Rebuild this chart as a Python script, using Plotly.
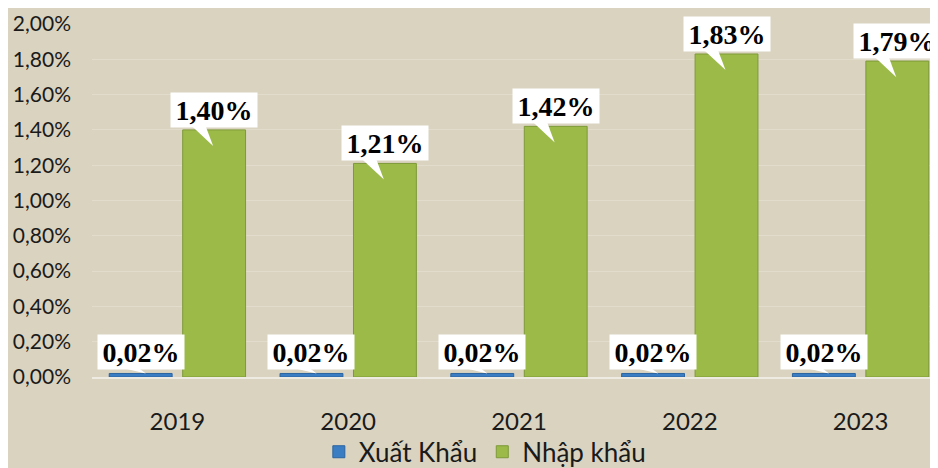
import plotly.graph_objects as go

years = ["2019", "2020", "2021", "2022", "2023"]
xuat_khau = [0.02, 0.02, 0.02, 0.02, 0.02]
nhap_khau = [1.40, 1.21, 1.42, 1.83, 1.79]
y_ticks = [0.0, 0.2, 0.4, 0.6, 0.8, 1.0, 1.2, 1.4, 1.6, 1.8, 2.0]

BG = "#D9D3C0"
BLUE = "#3A7DC2"
GREEN = "#9BBA48"


def fmt(v):
    return f"{v:.2f}%".replace(".", ",")


fig = go.Figure()
fig.add_trace(go.Bar(x=years, y=xuat_khau, name="Xuất Khẩu",
                     marker=dict(color=BLUE, line=dict(color="#2C64A0", width=1))))
fig.add_trace(go.Bar(x=years, y=nhap_khau, name="Nhập khẩu",
                     marker=dict(color=GREEN, line=dict(color="#7E9A38", width=1))))

off = 0.215  # half slot offset of each bar inside the group
label_font = dict(family="Liberation Serif", size=28, color="black", weight="bold")
shapes = []
annotations = []
for i, (b, g) in enumerate(zip(xuat_khau, nhap_khau)):
    # callout pointer for the import label
    xc = i + off
    shapes.append(dict(
        type="path", xref="x", yref="y",
        path=f"M {xc-0.140} {g+0.03} L {xc-0.053} {g+0.03} L {xc-0.006} {g-0.091} Z",
        fillcolor="white", line_width=0, layer="above"))
    annotations.append(dict(x=xc, y=g, xref="x", yref="y", text=fmt(g),
                            showarrow=False, yanchor="bottom", yshift=2,
                            bgcolor="white", borderpad=1, width=84, height=32,
                            font=label_font))
    # export label
    xb = i - off
    shapes.append(dict(
        type="path", xref="x", yref="y",
        path=f"M {xb-0.10} {b+0.03} L {xb-0.01} {b+0.03} L {xb+0.03} {b} Z",
        fillcolor="white", line_width=0, layer="above"))
    annotations.append(dict(x=xb, y=b, xref="x", yref="y", text=fmt(b),
                            showarrow=False, yanchor="bottom", yshift=3,
                            bgcolor="white", borderpad=1, width=84, height=32,
                            font=label_font))

fig.update_layout(
    width=938, height=468,
    margin=dict(l=84, r=0, t=16, b=99, autoexpand=False),
    paper_bgcolor=BG, plot_bgcolor=BG,
    barmode="group", bargap=0.14, bargroupgap=0.144,
    showlegend=True,
    legend=dict(orientation="h", x=0.46, xanchor="center", y=-0.212,
                yanchor="middle", font=dict(family="Lato", size=26, color="#1a1a1a"),
                bgcolor="rgba(0,0,0,0)", itemwidth=30),
    shapes=shapes, annotations=annotations,
)
fig.update_xaxes(type="category", range=[-0.5, 4.5], showgrid=False,
                 showline=True, linecolor="#EEEBE2", linewidth=2,
                 ticks="", ticklabelstandoff=22,
                 tickfont=dict(family="Lato", size=24, color="#1a1a1a"))
fig.update_yaxes(range=[0, 2.0], tickvals=y_ticks, ticktext=[fmt(v) for v in y_ticks],
                 showgrid=True, gridcolor="#E1DCCB", gridwidth=1,
                 zeroline=False, ticks="", ticklabelstandoff=20,
                 tickfont=dict(family="Lato", size=21, color="#1a1a1a"))

fig.write_html("out.html")
